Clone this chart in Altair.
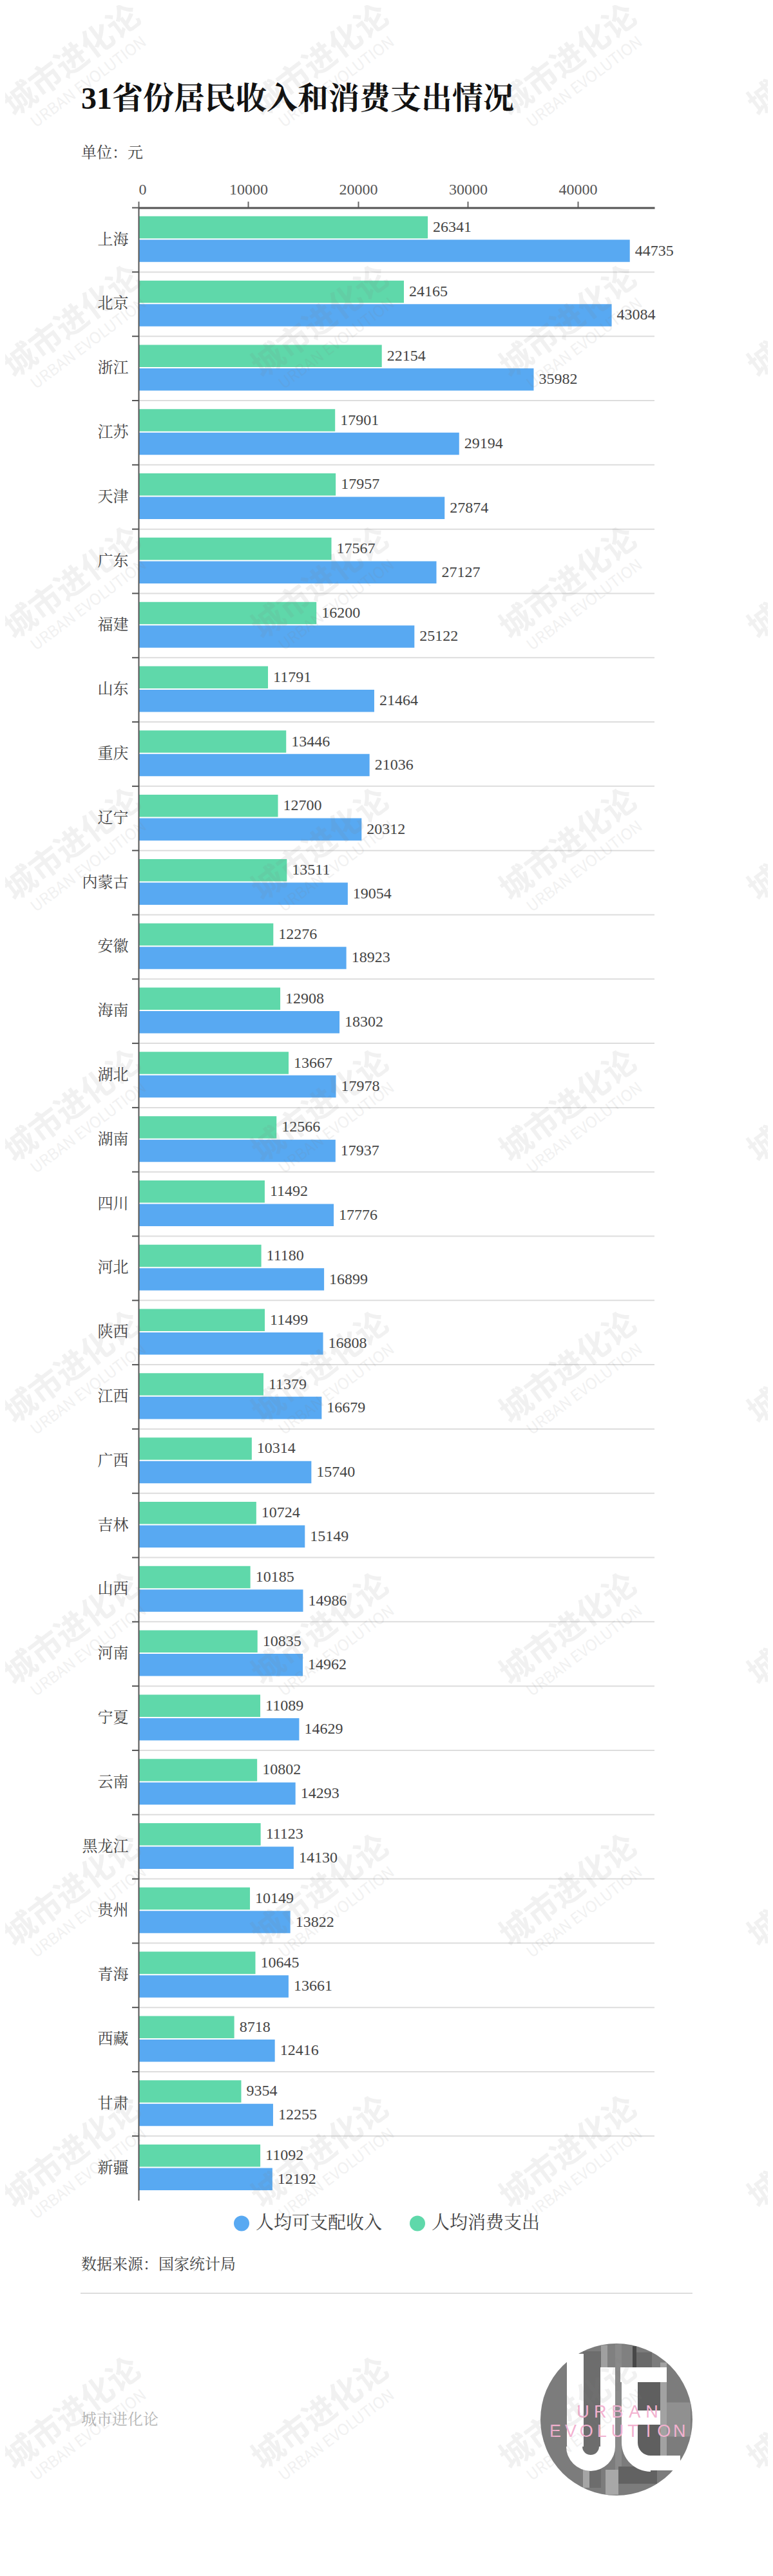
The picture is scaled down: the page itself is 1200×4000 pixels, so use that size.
import math
import altair as alt
import pandas as pd

PROVINCES = ["上海","北京","浙江","江苏","天津","广东","福建","山东","重庆","辽宁","内蒙古","安徽","海南","湖北","湖南","四川","河北","陕西","江西","广西","吉林","山西","河南","宁夏","云南","黑龙江","贵州","青海","西藏","甘肃","新疆"]
INCOME = [44735,43084,35982,29194,27874,27127,25122,21464,21036,20312,19054,18923,18302,17978,17937,17776,16899,16808,16679,15740,15149,14986,14962,14629,14293,14130,13822,13661,12416,12255,12192]
SPEND = [26341,24165,22154,17901,17957,17567,16200,11791,13446,12700,13511,12276,12908,13667,12566,11492,11180,11499,11379,10314,10724,10185,10835,11089,10802,11123,10149,10645,8718,9354,11092]
S_INCOME = "人均可支配收入"
S_SPEND = "人均消费支出"
TITLE = "31省份居民收入和消费支出情况"
UNIT = "单位：元"
SOURCE = "数据来源：国家统计局"
BRAND = "城市进化论"
WM_CN = "城市进化论"
WM_EN = "URBAN EVOLUTION"
TICKS = [0, 10000, 20000, 30000, 40000]

BLUE, GREEN = "#58A9F2", "#5FD8AA"
DARK, TXT = "#555555", "#444444"
SERIF = "Liberation Serif, Noto Serif CJK SC, Noto Sans CJK SC"
SANS = "Noto Sans CJK SC"

# plot-area origin on the page
OX, OY = 215.0, 322.6
W, H = 801, 3094
XMAX = 46980


def px(x):
    return x - OX


def py(y):
    return y - OY


rows = []
for p, a, b in zip(PROVINCES, SPEND, INCOME):
    rows.append({"province": p, "series": S_SPEND, "value": a})
    rows.append({"province": p, "series": S_INCOME, "value": b})
df = pd.DataFrame(rows)
prov_df = pd.DataFrame({"province": PROVINCES})

xs = alt.Scale(domain=[0, XMAX], nice=False, zero=True)
ys = alt.Scale(paddingInner=0, paddingOuter=0)
offs = alt.Scale(domain=[S_SPEND, S_INCOME], paddingInner=0.0548, paddingOuter=0.394, align=0.46)
ysort = PROVINCES
yaxis = alt.Axis(orient="left", ticks=False, grid=False, domainColor=DARK, domainWidth=2,
                 labelPadding=16, labelFont=SERIF, labelFontSize=24, labelColor=TXT,
                 labelAngle=0, labelLimit=200, zindex=1)

grid = alt.Chart(prov_df).mark_rule(color="#dddddd", strokeWidth=2).encode(
    y=alt.Y("province:N", sort=ysort, scale=ys, bandPosition=0, title=None, axis=yaxis),
    x=alt.value(0), x2=alt.value(W))
ticks = alt.Chart(prov_df).mark_rule(color=DARK, strokeWidth=2).encode(
    y=alt.Y("province:N", sort=ysort, scale=ys, bandPosition=0, title=None),
    x=alt.value(-10), x2=alt.value(0))

bars = alt.Chart(df).mark_bar().encode(
    x=alt.X("value:Q", scale=xs, title=None,
            axis=alt.Axis(orient="top", values=TICKS, format="d", grid=False,
                          domainColor=DARK, domainWidth=3, tickColor="#666666", tickWidth=2,
                          tickSize=10, labelPadding=6, labelFont=SERIF, labelFontSize=24,
                          labelColor=DARK, labelOverlap=False, zindex=1)),
    y=alt.Y("province:N", sort=ysort, scale=ys, title=None),
    yOffset=alt.YOffset("series:N", scale=offs),
    color=alt.Color("series:N",
                    scale=alt.Scale(domain=[S_INCOME, S_SPEND], range=[BLUE, GREEN]),
                    legend=alt.Legend(orient="none", legendX=146, legendY=3116, direction="horizontal",
                                      title=None, symbolType="circle", symbolSize=576, symbolStrokeWidth=0,
                                      symbolOpacity=1, labelFont=SERIF, labelFontSize=28, labelColor=TXT,
                                      labelOffset=8, labelLimit=300, columnPadding=40, columns=2)),
)
labels = alt.Chart(df).mark_text(align="left", baseline="middle", dx=8, font=SERIF, fontSize=24, color=TXT).encode(
    x=alt.X("value:Q", scale=xs, title=None),
    y=alt.Y("province:N", sort=ysort, scale=ys, title=None),
    yOffset=alt.YOffset("series:N", scale=offs),
    text=alt.Text("value:Q", format="d"),
)
main = alt.layer(grid, ticks, bars, labels)


def label(text, x, y, size, color, weight="normal", font=SERIF):
    return alt.Chart(pd.DataFrame({"t": [text]})).mark_text(
        align="left", baseline="middle", font=font, fontSize=size, color=color, fontWeight=weight
    ).encode(text="t:N", x=alt.value(px(x)), y=alt.value(py(y)))


texts = [
    label(TITLE, 126, 155, 48, "#111111", "bold"),
    label(UNIT, 126, 238, 24, TXT),
    label(SOURCE, 126, 3517, 24, TXT),
    label(BRAND, 126, 3758, 24, "#b5b5b5"),
]
foot_rule = alt.Chart(pd.DataFrame({"a": [0]})).mark_rule(color="#dddddd", strokeWidth=2).encode(
    x=alt.value(px(125)), x2=alt.value(px(1075)), y=alt.value(py(3561)))


# logo
CX, CY, R = 957, 3757, 118


def rect(x0, x1, y0, y1, color):
    return alt.Chart(pd.DataFrame({"a": [0]})).mark_rect(color=color).encode(
        x=alt.value(px(x0)), x2=alt.value(px(x1)), y=alt.value(py(y0)), y2=alt.value(py(y1)))


def stripe(x0, x1, y0, y1, color):
    d = max(abs(x0 - CX), abs(x1 - CX))
    h = math.sqrt(max(R * R - d * d, 0))
    return rect(x0, x1, max(y0, CY - h), min(y1, CY + h), color)


def arc(cx, cy, r0, r1, t0, t1):
    return alt.Chart(pd.DataFrame({"a": [0]})).mark_arc(
        color="white", radius=r1, radius2=r0, theta=t0, theta2=t1
    ).encode(x=alt.value(px(cx)), y=alt.value(py(cy)))


logo = [
    alt.Chart(pd.DataFrame({"a": [0]})).mark_circle(color="#7c7c7c", opacity=1, size=(2 * R) ** 2).encode(
        x=alt.value(px(CX)), y=alt.value(py(CY))),
    stripe(905, 933, 3630, 3900, "#6d6d6d"),
    stripe(933, 943, 3630, 3680, "#a0a0a0"),
    stripe(943, 982, 3630, 3680, "#808080"),
    stripe(982, 988, 3630, 3680, "#484848"),
    stripe(988, 1012, 3630, 3680, "#6a6a6a"),
    stripe(955, 965, 3640, 3840, "#8a8a8a"),
    stripe(990, 1025, 3690, 3830, "#5f5f5f"),
    stripe(1025, 1035, 3660, 3815, "#a2a2a2"),
    stripe(1035, 1072, 3670, 3815, "#909090"),
    stripe(960, 1020, 3830, 3880, "#626262"),
    stripe(905, 915, 3835, 3870, "#a5a5a5"),
    stripe(940, 960, 3835, 3875, "#a8a8a8"),
    rect(880, 906, 3655, 3799, "white"),
    rect(932, 955, 3676, 3799, "white"),
    arc(917, 3799, 13, 38, math.pi / 2, 3 * math.pi / 2),
    rect(963, 1035, 3676, 3699, "white"),
    rect(965, 990, 3676, 3793, "white"),
    rect(990, 1025, 3743, 3765, "white"),
    arc(1010, 3793, 20, 45, math.pi, 3 * math.pi / 2),
    rect(1010, 1056, 3813, 3836, "white"),
]


def letters(word, x0, pitch, y):
    d = pd.DataFrame({"ch": list(word), "i": range(len(word))})
    return alt.Chart(d).transform_calculate(
        a=f"{px(x0)} + datum.i * {pitch}", b=f"{py(y)}"
    ).mark_text(align="center", baseline="middle", font="Liberation Sans", fontSize=27, fontWeight=500,
                color="#F2B1CF").encode(
        text="ch:N",
        x=alt.X("a:Q", scale=None, axis=None),
        y=alt.Y("b:Q", scale=None, axis=None))


logo += [letters("URBAN", 905, 26.75, 3746), letters("EVOLUTION", 862, 24.1, 3776)]

# repeated watermark
wm = pd.DataFrame([{"c": c, "r": r} for c in range(4) for r in range(10)])


def watermark(text, x0, y0, size, weight, angle=323):
    return alt.Chart(wm).transform_calculate(
        a=f"{px(x0)} + datum.c * 385", b=f"{py(y0)} + datum.r * 406", t=f"'{text}'"
    ).mark_text(align="center", baseline="middle", font=SANS, fontSize=size, fontWeight=weight,
                color="#808080", opacity=0.10, angle=angle).encode(
        text="t:N",
        x=alt.X("a:Q", scale=None, axis=None),
        y=alt.Y("b:Q", scale=None, axis=None))


marks = [watermark(WM_CN, 113, 95, 50, "bold"), watermark(WM_EN, 138, 128, 24, "normal")]

chart = alt.layer(main, *texts, foot_rule, *logo, *marks).resolve_scale(
    x="independent", y="independent"
).properties(
    width=W, height=H,
    padding={"left": OX - 8, "top": OY - 8, "right": 1184 - (OX - 8 + W), "bottom": 3984 - (OY - 8 + H)},
    autosize=alt.AutoSizeParams(type="none"),
    background="white",
).configure_view(stroke=None)

chart.save("out.html", embed_options={"renderer": "svg", "actions": False})
